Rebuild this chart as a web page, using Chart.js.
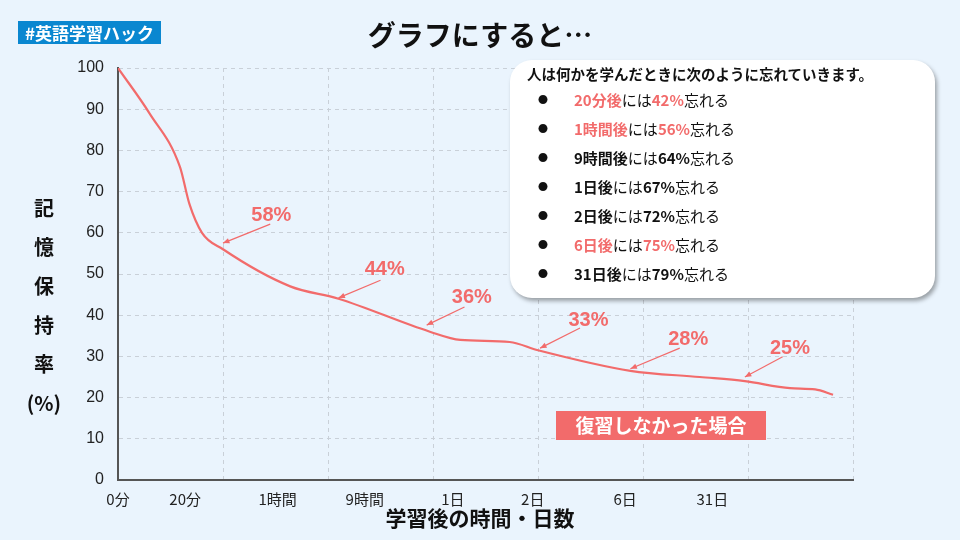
<!DOCTYPE html>
<html>
<head>
<meta charset="utf-8">
<script src="https://cdn.jsdelivr.net/npm/chart.js@4/dist/chart.umd.min.js"></script>
<style>
body { margin:0; width:960px; height:540px; background:#eaf4fd; position:relative; overflow:hidden;
  font-family:"Noto Sans CJK JP", "Liberation Sans", sans-serif; }
#c { position:absolute; left:0; top:0; }
.tag { position:absolute; left:18px; top:21px; width:143px; height:23px; background:#0a87d0; color:#fff;
  font-weight:bold; font-size:17px; line-height:23px; text-align:center; }
.title { position:absolute; left:0; width:960px; top:14px; text-align:center; font-size:28px; font-weight:bold; color:#111; }
.ytitle { position:absolute; left:22px; top:188px; width:44px; text-align:center; font-size:20px; font-weight:bold; line-height:39px; color:#111; }
.xtitle { position:absolute; left:0; width:960px; top:502px; text-align:center; font-size:21px; font-weight:bold; color:#111; }
.box { position:absolute; left:510px; top:60px; width:425px; height:238px; background:#fff; border-radius:22px;
  box-shadow:2px 3px 4px rgba(0,0,0,0.35); }
.box .h { position:absolute; left:17px; top:3px; font-size:14.5px; font-weight:bold; color:#111; }
.box ul { position:absolute; left:0; top:25px; margin:0; padding:0; list-style:none; }
.box li { height:29px; line-height:29px; font-size:15px; color:#111; }
.box li b.d { display:inline-block; width:36px; padding-left:28px; font-size:10px; vertical-align:top; }
.r { color:#f26b6b; font-weight:bold; }
.k { color:#111; font-weight:bold; }
</style>
</head>
<body>
<canvas id="c" width="960" height="540"></canvas>
<div class="tag">#英語学習ハック</div>
<div class="title">グラフにすると…</div>
<div class="ytitle">記<br>憶<br>保<br>持<br>率<br>(%)</div>
<div class="xtitle">学習後の時間・日数</div>
<div class="box">
  <div class="h">人は何かを学んだときに次のように忘れていきます。</div>
  <ul>
    <li><b class="d">●</b><span class="r">20分後</span>には<span class="r">42%</span>忘れる</li>
    <li><b class="d">●</b><span class="r">1時間後</span>には<span class="r">56%</span>忘れる</li>
    <li><b class="d">●</b><span class="k">9時間後</span>には<span class="k">64%</span>忘れる</li>
    <li><b class="d">●</b><span class="k">1日後</span>には<span class="k">67%</span>忘れる</li>
    <li><b class="d">●</b><span class="k">2日後</span>には<span class="k">72%</span>忘れる</li>
    <li><b class="d">●</b><span class="r">6日後</span>には<span class="r">75%</span>忘れる</li>
    <li><b class="d">●</b><span class="k">31日後</span>には<span class="k">79%</span>忘れる</li>
  </ul>
</div>
<script>
// curve (x in grid steps, y in %)
const curveX = [0, 0.3, 0.59, 0.68, 0.8, 1.0, 1.64, 2.1, 2.97, 3.26, 3.73, 4.0, 4.88, 5.54, 5.97, 6.4, 6.64, 6.81];
const curveY = [100, 89, 76, 67, 60, 56, 47, 44, 36, 34, 33.5, 31.5, 26.5, 25, 24, 22.3, 22, 20.7];

const tickLabels = ['0分', '20分', '1時間', '9時間', '1日', '2日', '6日', '31日'];
const tickPos = [0, 0.64, 1.52, 2.35, 3.19, 3.95, 4.83, 5.66];

// callouts: label, label position, arrow start, arrow end
const calloutText = ['58%', '44%', '36%', '33%', '28%', '25%'];
const calloutAt = [[1.46, 64.3], [2.54, 51], [3.37, 44.2], [4.48, 38.6], [5.43, 34], [6.4, 32]];
const arrowFrom = [[1.45, 62.1], [2.5, 48.5], [3.3, 42], [4.4, 36.9], [5.35, 32], [6.33, 29.9]];
const arrowTo = [[1.0, 57.5], [2.1, 44.2], [2.94, 37.6], [4.02, 32], [4.88, 27], [5.97, 25]];

const red = '#f26b6b';

const callouts = {
  id: 'callouts',
  afterDatasetsDraw(chart) {
    const c = chart.ctx, xs = chart.scales.x, ys = chart.scales.y;
    c.save();
    c.strokeStyle = red; c.fillStyle = red; c.lineWidth = 1.2;
    for (let i = 0; i < calloutText.length; i++) {
      const x1 = xs.getPixelForValue(arrowFrom[i][0]), y1 = ys.getPixelForValue(arrowFrom[i][1]);
      const x2 = xs.getPixelForValue(arrowTo[i][0]), y2 = ys.getPixelForValue(arrowTo[i][1]);
      c.beginPath(); c.moveTo(x1, y1); c.lineTo(x2, y2); c.stroke();
      const a = Math.atan2(y2 - y1, x2 - x1);
      c.beginPath();
      c.moveTo(x2, y2);
      c.lineTo(x2 - 7 * Math.cos(a - 0.4), y2 - 7 * Math.sin(a - 0.4));
      c.lineTo(x2 - 7 * Math.cos(a + 0.4), y2 - 7 * Math.sin(a + 0.4));
      c.closePath(); c.fill();
      c.font = 'bold 20px "Liberation Sans Narrow", "Liberation Sans", sans-serif';
      c.textAlign = 'center'; c.textBaseline = 'middle';
      c.fillText(calloutText[i], xs.getPixelForValue(calloutAt[i][0]), ys.getPixelForValue(calloutAt[i][1]));
    }
    // "復習しなかった場合" label
    c.fillStyle = red;
    c.fillRect(556, 411, 210, 29);
    c.fillStyle = '#fff';
    c.font = 'bold 19px "Noto Sans CJK JP", sans-serif';
    c.fillText('復習しなかった場合', 661, 426);
    c.restore();
  }
};

new Chart(document.getElementById('c'), {
  type: 'line',
  data: {
    datasets: [{
      data: curveX.map((x, i) => ({ x: x, y: curveY[i] })),
      borderColor: red, borderWidth: 2.2, pointRadius: 0, tension: 0.4, cubicInterpolationMode: 'monotone'
    }]
  },
  options: {
    responsive: false, animation: false,
    layout: { padding: { left: 68, right: 107, top: 68, bottom: 28 } },
    plugins: { legend: { display: false }, tooltip: { enabled: false } },
    scales: {
      x: {
        type: 'linear', min: 0, max: 7,
        ticks: { display: false, stepSize: 1 },
        grid: { color: '#c9d0d8', tickLength: 0 },
        border: { color: '#555', width: 2, dash: [4, 4] },
        afterFit(s) { s.height = 0; }
      },
      x2: {
        type: 'linear', position: 'bottom', min: 0, max: 7,
        grid: { display: false }, border: { display: false },
        afterBuildTicks(s) { s.ticks = tickPos.map(v => ({ value: v })); },
        ticks: {
          autoSkip: false, maxRotation: 0, color: '#222', padding: 2,
          font: { size: 15, family: '"Noto Sans CJK JP", sans-serif' },
          callback: (v, i) => tickLabels[i]
        },
        afterFit(s) { s.height = 32; }
      },
      y: {
        min: 0, max: 100,
        ticks: { stepSize: 10, color: '#222', padding: 14, font: { size: 16, family: '"Liberation Sans", sans-serif' } },
        grid: { color: '#c9d0d8', tickLength: 0 },
        border: { color: '#555', width: 2, dash: [4, 4] },
        afterFit(s) { s.width = 50; }
      }
    }
  },
  plugins: [callouts]
});
</script>
</body>
</html>
